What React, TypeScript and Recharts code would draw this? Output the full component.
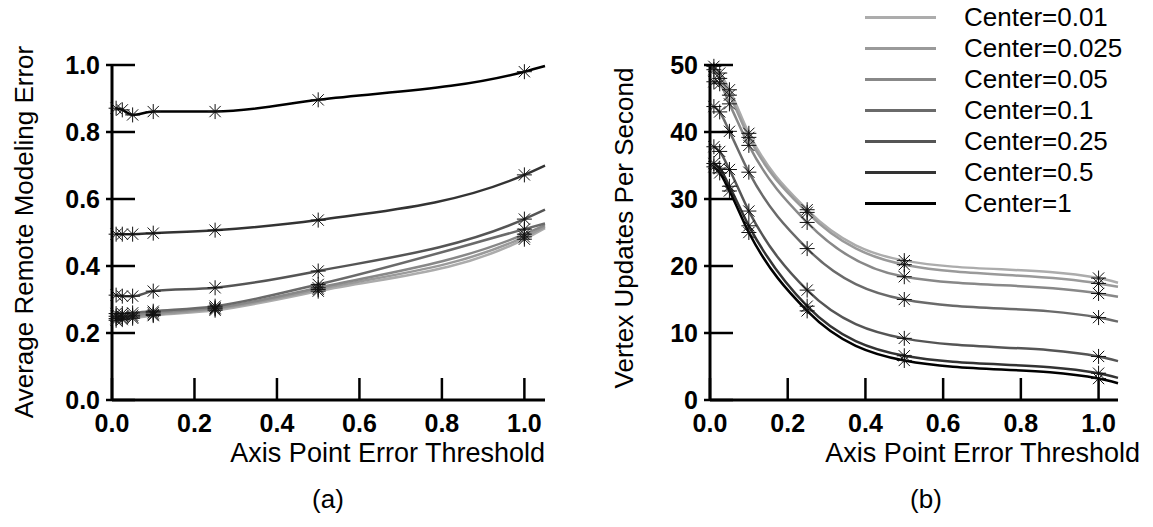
import React from 'react';
import { LineChart, Line, XAxis, YAxis, Legend } from 'recharts';

const FONT = '"Liberation Sans", Arial, Helvetica, sans-serif';

// x positions of the measurements (last one is the end of the fitted curve, no marker)
const thresholds = [0.01, 0.025, 0.05, 0.1, 0.25, 0.5, 1.0, 1.05];
const xTicks = [0, 0.2, 0.4, 0.6, 0.8, 1.0];
const errorTicks = [0, 0.2, 0.4, 0.6, 0.8, 1.0];
const updateTicks = [0, 10, 20, 30, 40, 50];

const centerNames = ['Center=0.01', 'Center=0.025', 'Center=0.05', 'Center=0.1', 'Center=0.25', 'Center=0.5', 'Center=1'];
const centerKeys = ['c001', 'c0025', 'c005', 'c01', 'c025', 'c05', 'c1'];
const lineColors = ['#acacac', '#9a9a9a', '#888888', '#6a6a6a', '#555555', '#333333', '#000000'];

// (a) average remote modeling error
const errC001 = [0.238, 0.24, 0.244, 0.252, 0.268, 0.325, 0.48, 0.513];
const errC0025 = [0.243, 0.245, 0.248, 0.255, 0.272, 0.33, 0.487, 0.517];
const errC005 = [0.25, 0.25, 0.253, 0.26, 0.275, 0.335, 0.495, 0.522];
const errC01 = [0.258, 0.258, 0.26, 0.265, 0.28, 0.345, 0.51, 0.527];
const errC025 = [0.313, 0.31, 0.31, 0.325, 0.335, 0.385, 0.54, 0.568];
const errC05 = [0.495, 0.495, 0.495, 0.498, 0.507, 0.537, 0.672, 0.7];
const errC1 = [0.871, 0.866, 0.851, 0.861, 0.861, 0.896, 0.98, 0.997];

// (b) vertex updates per second
const vupsC001 = [49.8, 48.8, 46.3, 39.8, 28.4, 20.8, 18.2, 17.5];
const vupsC0025 = [49.3, 48.0, 45.5, 39.2, 28.0, 20.2, 17.4, 16.9];
const vupsC005 = [47.5, 47.2, 44.2, 38.0, 26.5, 18.4, 15.9, 15.4];
const vupsC01 = [43.8, 43.0, 40.1, 34.0, 22.6, 15.0, 12.3, 11.7];
const vupsC025 = [37.8, 37.1, 34.4, 28.2, 16.4, 9.2, 6.5, 5.8];
const vupsC05 = [35.3, 34.6, 31.9, 26.0, 14.0, 6.6, 4.0, 3.3];
const vupsC1 = [34.8, 33.9, 31.2, 25.0, 13.3, 5.9, 3.2, 2.5];

const errorSeries = [errC001, errC0025, errC005, errC01, errC025, errC05, errC1];
const updateSeries = [vupsC001, vupsC0025, vupsC005, vupsC01, vupsC025, vupsC05, vupsC1];

const buildRows = (series: number[][]) =>
  thresholds.map((x, i) => {
    const row: Record<string, number> = { x };
    centerKeys.forEach((k, j) => {
      row[k] = series[j][i];
    });
    return row;
  });

const errorData = buildRows(errorSeries);
const updateData = buildRows(updateSeries);

const Asterisk = (props: any) => {
  const { cx, cy, payload, index } = props;
  if (cx == null || cy == null || payload.x > 1.001) return <g key={`d-${index}`} />;
  const r = 7.5;
  const d = r * 0.75;
  return (
    <g key={`d-${index}`} stroke="#111" strokeWidth={1}>
      <line x1={cx - r} x2={cx + r} y1={cy} y2={cy} />
      <line x1={cx} x2={cx} y1={cy - r} y2={cy + r} />
      <line x1={cx - d} x2={cx + d} y1={cy - d} y2={cy + d} />
      <line x1={cx - d} x2={cx + d} y1={cy + d} y2={cy - d} />
    </g>
  );
};

const XTick = ({ x, y, payload }: any) => (
  <g>
    <line x1={x} x2={x} y1={y} y2={y - 22} stroke="#000" strokeWidth={2.5} />
    <text x={x} y={y + 32} textAnchor="middle" fontSize={25} fontWeight="bold" fontFamily={FONT} fill="#000">
      {Number(payload.value).toFixed(1)}
    </text>
  </g>
);

const YTick = ({ x, y, payload, decimals }: any) => (
  <g>
    <line x1={x - 6} x2={x + 23} y1={y} y2={y} stroke="#000" strokeWidth={2.5} />
    <text x={x - 12} y={y + 9} textAnchor="end" fontSize={25} fontWeight="bold" fontFamily={FONT} fill="#000">
      {Number(payload.value).toFixed(decimals)}
    </text>
  </g>
);

const YTitle = ({ bx, cy, text }: any) => (
  <text
    x={bx}
    y={cy}
    transform={`rotate(-90, ${bx}, ${cy})`}
    textAnchor="middle"
    fontSize={26}
    fontFamily={FONT}
    fill="#000"
  >
    {text}
  </text>
);

const XTitle = ({ right, subX, sub }: any) => (
  <g fontFamily={FONT} fill="#000">
    <text x={right} y={462} textAnchor="end" fontSize={27}>
      Axis Point Error Threshold
    </text>
    <text x={subX} y={508} textAnchor="middle" fontSize={26}>
      {sub}
    </text>
  </g>
);

const LegendBox = ({ payload }: any) => (
  <div style={{ fontFamily: FONT, fontSize: 26, color: '#000' }}>
    {(payload || []).map((e: any) => (
      <div key={e.value} style={{ display: 'flex', alignItems: 'center', height: 31 }}>
        <div style={{ width: 71, height: 3, background: e.color, marginRight: 28 }} />
        <span style={{ lineHeight: '31px', whiteSpace: 'nowrap' }}>{e.value}</span>
      </div>
    ))}
  </div>
);

const axisLine = { stroke: '#000', strokeWidth: 3 };

const renderLines = () =>
  centerKeys.map((k, i) => (
    <Line
      key={k}
      type="monotone"
      dataKey={k}
      name={centerNames[i]}
      stroke={lineColors[i]}
      strokeWidth={2.5}
      dot={Asterisk}
      activeDot={false}
      isAnimationActive={false}
    />
  ));

export default function App() {
  return (
    <div style={{ position: 'absolute', left: 0, top: 0, width: 1153, height: 527, background: '#fff' }}>
      <div style={{ position: 'absolute', left: 0, top: 0 }}>
        <LineChart width={580} height={527} data={errorData} margin={{ top: 65, left: 111, right: 35, bottom: 126 }}>
          <XAxis
            type="number"
            dataKey="x"
            domain={[0, 1.05]}
            ticks={xTicks}
            interval={0}
            height={1}
            tickSize={0}
            tickMargin={0}
            tickLine={false}
            axisLine={axisLine}
            tick={<XTick />}
            label={<XTitle right={545} subX={328} sub="(a)" />}
          />
          <YAxis
            type="number"
            domain={[0, 1]}
            ticks={errorTicks}
            interval={0}
            width={1}
            tickSize={0}
            tickMargin={0}
            tickLine={false}
            axisLine={axisLine}
            tick={<YTick decimals={1} />}
            label={<YTitle bx={33} cy={232} text="Average Remote Modeling Error" />}
          />
          {renderLines()}
        </LineChart>
      </div>
      <div style={{ position: 'absolute', left: 580, top: 0 }}>
        <LineChart width={573} height={527} data={updateData} margin={{ top: 65, left: 129, right: 35, bottom: 126 }}>
          <XAxis
            type="number"
            dataKey="x"
            domain={[0, 1.05]}
            ticks={xTicks}
            interval={0}
            height={1}
            tickSize={0}
            tickMargin={0}
            tickLine={false}
            axisLine={axisLine}
            tick={<XTick />}
            label={<XTitle right={560} subX={346} sub="(b)" />}
          />
          <YAxis
            type="number"
            domain={[0, 50]}
            ticks={updateTicks}
            interval={0}
            width={1}
            tickSize={0}
            tickMargin={0}
            tickLine={false}
            axisLine={axisLine}
            tick={<YTick decimals={0} />}
            label={<YTitle bx={53} cy={228} text="Vertex Updates Per Second" />}
          />
          <Legend
            layout="horizontal"
            verticalAlign="middle"
            align="center"
            content={<LegendBox />}
            wrapperStyle={{ left: 285, top: 2, width: 288, height: 220 }}
          />
          {renderLines()}
        </LineChart>
      </div>
    </div>
  );
}
